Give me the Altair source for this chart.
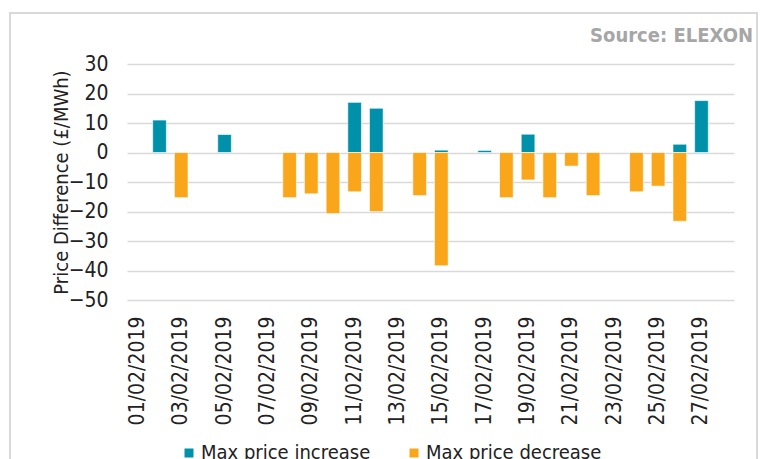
import altair as alt
import pandas as pd

dates = ["01/02/2019", "02/02/2019", "03/02/2019", "04/02/2019", "05/02/2019",
         "06/02/2019", "07/02/2019", "08/02/2019", "09/02/2019", "10/02/2019",
         "11/02/2019", "12/02/2019", "13/02/2019", "14/02/2019", "15/02/2019",
         "16/02/2019", "17/02/2019", "18/02/2019", "19/02/2019", "20/02/2019",
         "21/02/2019", "22/02/2019", "23/02/2019", "24/02/2019", "25/02/2019",
         "26/02/2019", "27/02/2019", "28/02/2019"]

increase = [None, 11.0, None, None, 6.1, None, None, None, None, None,
            17.0, 15.0, None, None, 0.8, None, 0.7, None, 6.2, None,
            None, None, None, None, None, 2.8, 17.6, None]

decrease = [None, None, -15.3, None, None, None, None, -15.3, -14.0, -20.7,
            -13.3, -20.0, None, -14.6, -38.4, None, None, -15.3, -9.3, -15.3,
            -4.6, -14.6, None, -13.3, -11.4, -23.3, None, None]

series_names = ["Max price increase", "Max price decrease"]
series_colors = ["#0091AA", "#F9A61A"]
y_ticks = [30, 20, 10, 0, -10, -20, -30, -40, -50]
x_tick_labels = ["01/02/2019", "03/02/2019", "05/02/2019", "07/02/2019", "09/02/2019",
                 "11/02/2019", "13/02/2019", "15/02/2019", "17/02/2019", "19/02/2019",
                 "21/02/2019", "23/02/2019", "25/02/2019", "27/02/2019"]
source_text = ["Source: ELEXON"]

rows = []
for name, vals in zip(series_names, [increase, decrease]):
    for d, v in zip(dates, vals):
        if v is not None:
            rows.append({"date": d, "series": name, "value": v})
df = pd.DataFrame(rows)

FONT = "DejaVu Sans Condensed"
TXT = "#222222"

border = alt.Chart(pd.DataFrame({"b": [0]})).mark_rect(
    fillOpacity=0, stroke="#d9d9d9", strokeWidth=2
).encode(
    x=alt.value(-117), x2=alt.value(630), y=alt.value(-51), y2=alt.value(500)
)

source = alt.Chart(pd.DataFrame({"t": source_text})).mark_text(
    align="right", baseline="alphabetic", font=FONT, fontSize=20,
    fontWeight="bold", color="#a6a6a6"
).encode(text="t:N", x=alt.value(626), y=alt.value(-22))

bars = alt.Chart(df).mark_bar(stroke="#ffffff", strokeOpacity=0.6, strokeWidth=1).encode(
    x=alt.X("date:O",
            scale=alt.Scale(domain=dates, paddingInner=0.37, paddingOuter=0.185),
            axis=alt.Axis(values=x_tick_labels, labelAngle=-90, title=None,
                          domain=False, ticks=False, labelPadding=16,
                          labelFontSize=21, labelFont=FONT, labelColor=TXT,
                          grid=False)),
    y=alt.Y("value:Q", stack=None,
            scale=alt.Scale(domain=[-50, 30], nice=False, zero=False),
            axis=alt.Axis(values=y_ticks, title="Price Difference (£/MWh)",
                          domain=False, ticks=False, labelPadding=19,
                          labelFontSize=21, labelFont=FONT, labelColor=TXT,
                          titleFont=FONT, titleFontSize=20, titleFontWeight="normal",
                          titleColor=TXT, titleAngle=-90, titleX=-66, titleY=118,
                          titleAlign="center", titleBaseline="middle",
                          grid=True, gridColor="#d9d9d9", gridWidth=1.5)),
    color=alt.Color("series:N",
                    scale=alt.Scale(domain=series_names, range=series_colors),
                    legend=alt.Legend(orient="none", legendX=52, legendY=379,
                                      direction="horizontal", title=None,
                                      symbolType="square", symbolSize=81,
                                      symbolStrokeWidth=0, labelFontSize=20,
                                      labelFont=FONT, labelColor=TXT, labelLimit=0,
                                      labelOffset=2, columnPadding=33)),
)

chart = alt.layer(border, source, bars).properties(
    width=607, height=236,
    autosize="none",
    padding={"left": 119, "top": 56, "right": 24, "bottom": 159},
).configure_view(stroke=None)

chart.save("out.html", embed_options={"renderer": "svg", "actions": False})
